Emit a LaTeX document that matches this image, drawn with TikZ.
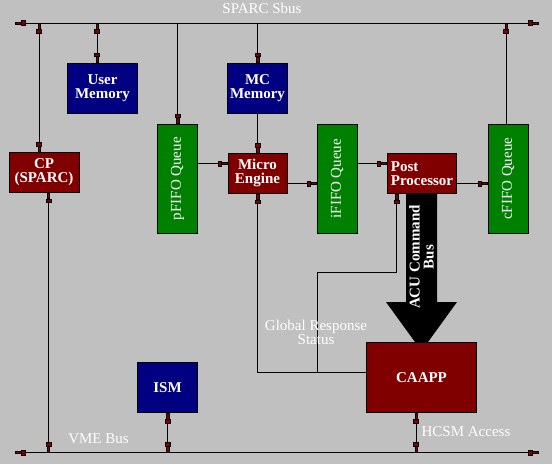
\documentclass[tikz,border=0pt]{standalone}
\usepackage{fontspec}
\setmainfont{Liberation Serif}
\usetikzlibrary{arrows.meta}
\definecolor{bggray}{HTML}{C0C0C0}
\definecolor{memblue}{HTML}{000080}
\definecolor{fifogreen}{HTML}{008000}
\definecolor{unitred}{HTML}{800000}

\begin{document}
\begin{tikzpicture}[x=1pt, y=-1pt,
    box/.style={draw=black, line width=0.8pt, text=white, inner sep=0pt, align=center,
        font=\fontsize{15}{14}\selectfont\bfseries},
    membox/.style={box, fill=memblue},
    unitbox/.style={box, fill=unitred},
    fifobox/.style={box, fill=fifogreen, minimum width=40pt, minimum height=109pt,
        font=\fontsize{15}{14}\selectfont},
    buslabel/.style={text=white, inner sep=0pt, font=\fontsize{15}{14}\selectfont},
    wire/.style={line width=0.8pt},
    plug/.tip={Rectangle[length=4pt, width=5.5pt, line width=0.4pt, fill=unitred]
        Rectangle[length=6pt, width=2.8pt, line width=0.4pt, fill=unitred]}
]
    % 背景
    \fill[bggray] (0,0) rectangle (552,464);
    \useasboundingbox (0,0) rectangle (552,464);

    % 总线 SPARC Sbus
    \coordinate (sbusL) at (15,23);
    \coordinate (sbusR) at (538,23);
    \draw[wire, plug-plug] (sbusL) -- (sbusR);
    \node[buslabel] (sbuslbl) at (262,8) {SPARC Sbus};

    % 总线 VME Bus
    \coordinate (vmeL) at (15,452.3);
    \coordinate (vmeR) at (538,452.3);
    \draw[wire, plug-plug] (vmeL) -- (vmeR);
    \node[buslabel] (vmelbl) at (98.5,439) {VME Bus};

    % 各个模块
    \node[membox, minimum width=70pt, minimum height=50pt] (umem) at (102.5,88) {User\\Memory};
    \node[membox, minimum width=60pt, minimum height=50pt] (mcmem) at (257.5,88) {MC\\Memory};
    \node[unitbox, minimum width=70pt, minimum height=40pt] (cp) at (44,172.3) {CP\\(SPARC)};
    \node[fifobox] (pfifo) at (177.5,178.7) {\rotatebox{90}{pFIFO Queue}};
    \node[unitbox, minimum width=59pt, minimum height=40pt] (me) at (257.5,173.3) {Micro\\Engine};
    \node[fifobox] (ififo) at (337,178.7) {\rotatebox{90}{iFIFO Queue}};
    \node[unitbox, minimum width=69.5pt, minimum height=40pt, align=left] (pp) at (422,173.3) {Post\\Processor};
    \node[fifobox] (cfifo) at (508,178.7) {\rotatebox{90}{cFIFO Queue}};
    \node[membox, minimum width=60pt, minimum height=50pt] (ism) at (167.5,387.5) {ISM};
    \node[unitbox, minimum width=110pt, minimum height=70.5pt] (caapp) at (421.5,377.3) {CAAPP};

    % Sbus 到各模块
    \coordinate (cptop) at ([xshift=-5pt]cp.north);
    \coordinate (umemtop) at ([xshift=-5.5pt]umem.north);
    \coordinate (cfifotop) at ([xshift=-2pt]cfifo.north);
    \draw[wire, plug-plug] (cptop |- sbusL) -- (cptop);
    \draw[wire, plug-plug] (umemtop |- sbusL) -- (umemtop);
    \draw[wire, -plug] (pfifo.north |- sbusL) -- (pfifo.north);
    \draw[wire, -plug] (mcmem.north |- sbusL) -- (mcmem.north);
    \draw[wire, plug-] (cfifotop |- sbusL) -- (cfifotop);

    % 流水线
    \coordinate (mein) at ([yshift=10pt]me.west);
    \coordinate (meout) at ([yshift=-10pt]me.east);
    \coordinate (ppin) at ([yshift=10pt]pp.west);
    \coordinate (ppout) at ([yshift=-10pt]pp.east);
    \draw[wire, -plug] (mcmem.south) -- (me.north);
    \draw[wire, -plug] (pfifo.east |- mein) -- (mein);
    \draw[wire, -plug] (meout) -- (ififo.west |- meout);
    \draw[wire, -plug] (ififo.east |- ppin) -- (ppin);
    \draw[wire, -plug] (ppout) -- (cfifo.west |- ppout);

    % ACU Command Bus (大箭头)
    \fill[black] (406,193) -- (437,193) -- (437,302) -- (457,302) -- (428,342)
        -- (415,342) -- (386,302) -- (406,302) -- cycle;
    \node[buslabel, rotate=90, align=center, font=\fontsize{15}{14}\selectfont\bfseries] (acu) at (421.5,257) {ACU Command\\Bus};

    % Global Response Status
    \coordinate (caappin) at ([yshift=5pt]caapp.west);
    \coordinate (ppbot) at ([xshift=-25.5pt]pp.south);
    \coordinate (gjoin) at (317,372.3);
    \draw[wire, -plug] (caappin) -| (me.south);
    \draw[wire, -plug] (gjoin) -- (317,272.3) -| (ppbot);
    \node[buslabel, align=center] (gstat) at (316,332) {Global Response\\Status};

    % VME Bus 到各模块
    \coordinate (cpbot) at ([xshift=4.3pt]cp.south);
    \coordinate (caappbot) at ([xshift=-5.5pt]caapp.south);
    \draw[wire, plug-plug] (cpbot) -- (cpbot |- vmeL);
    \draw[wire, plug-plug] (ism.south) -- (ism.south |- vmeL);
    \draw[wire, plug-plug] (caappbot) -- (caappbot |- vmeL);
    \node[buslabel] (hcsm) at (466,432) {HCSM Access};
\end{tikzpicture}
\end{document}
